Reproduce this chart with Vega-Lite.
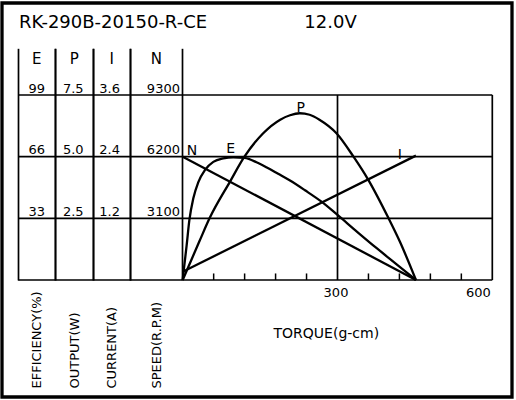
{
  "$schema": "https://vega.github.io/schema/vega-lite/v6.json",
  "description": "RK-290B-20150-R-CE motor performance at 12.0V: efficiency, output, current and speed against torque.",
  "width": 510,
  "height": 394,
  "autosize": {"type": "none"},
  "padding": {"left": 2, "top": 3, "right": 4, "bottom": 3},
  "background": "white",
  "title": {
    "text": "RK-290B-20150-R-CE\u00a0\u00a0\u00a0\u00a0\u00a0\u00a0\u00a0\u00a0\u00a0\u00a0\u00a0\u00a0\u00a0\u00a0\u00a0\u00a0\u00a012.0V",
    "anchor": "start",
    "frame": "group",
    "offset": -22.3,
    "baseline": "alphabetic",
    "dx": 17,
    "dy": 20.5,
    "font": "DejaVu Sans",
    "fontSize": 18,
    "fontWeight": "normal",
    "color": "black"
  },
  "datasets": {
    "curves": [
      {"series": "E", "torque": 0, "value": 0},
      {"series": "E", "torque": 2.5, "value": 6.3},
      {"series": "E", "torque": 7.7, "value": 18.7},
      {"series": "E", "torque": 12.9, "value": 32},
      {"series": "E", "torque": 20.6, "value": 43.7},
      {"series": "E", "torque": 30.3, "value": 52.4},
      {"series": "E", "torque": 43.2, "value": 58.9},
      {"series": "E", "torque": 59.3, "value": 63.2},
      {"series": "E", "torque": 78.7, "value": 65.1},
      {"series": "E", "torque": 98, "value": 65.7},
      {"series": "E", "torque": 120, "value": 65.3},
      {"series": "E", "torque": 143, "value": 63.0},
      {"series": "E", "torque": 163, "value": 60.2},
      {"series": "E", "torque": 185, "value": 56.8},
      {"series": "E", "torque": 208, "value": 53.2},
      {"series": "E", "torque": 237, "value": 48.0},
      {"series": "E", "torque": 269, "value": 41.9},
      {"series": "E", "torque": 300, "value": 34.8},
      {"series": "E", "torque": 338, "value": 25.8},
      {"series": "E", "torque": 376, "value": 17.0},
      {"series": "E", "torque": 414, "value": 8.5},
      {"series": "E", "torque": 452, "value": 0},
      {"series": "P", "torque": 0, "value": 0},
      {"series": "P", "torque": 33, "value": 1.6},
      {"series": "P", "torque": 52, "value": 2.5},
      {"series": "P", "torque": 92, "value": 4.0},
      {"series": "P", "torque": 119, "value": 4.98},
      {"series": "P", "torque": 156, "value": 5.95},
      {"series": "P", "torque": 189, "value": 6.5},
      {"series": "P", "torque": 208, "value": 6.68},
      {"series": "P", "torque": 227, "value": 6.76},
      {"series": "P", "torque": 246, "value": 6.7},
      {"series": "P", "torque": 265, "value": 6.5},
      {"series": "P", "torque": 298, "value": 5.95},
      {"series": "P", "torque": 331, "value": 5.0},
      {"series": "P", "torque": 360, "value": 4.05},
      {"series": "P", "torque": 399, "value": 2.5},
      {"series": "P", "torque": 421, "value": 1.55},
      {"series": "P", "torque": 452, "value": 0},
      {"series": "I", "torque": 0, "value": 0.16},
      {"series": "I", "torque": 452, "value": 2.42},
      {"series": "N", "torque": 0, "value": 6200},
      {"series": "N", "torque": 452, "value": 0}
    ],
    "table": [
      {"series": "E", "value": 0},
      {"series": "E", "value": 33},
      {"series": "E", "value": 66},
      {"series": "E", "value": 99},
      {"series": "P", "value": 0},
      {"series": "P", "value": 2.5},
      {"series": "P", "value": 5.0},
      {"series": "P", "value": 7.5},
      {"series": "I", "value": 0},
      {"series": "I", "value": 1.2},
      {"series": "I", "value": 2.4},
      {"series": "I", "value": 3.6},
      {"series": "N", "value": 0},
      {"series": "N", "value": 3100},
      {"series": "N", "value": 6200},
      {"series": "N", "value": 9300}
    ],
    "torqueGrid": [
      {"torque": 300},
      {"torque": 600}
    ],
    "torqueTicks": [
      {"torque": 60},
      {"torque": 120},
      {"torque": 180},
      {"torque": 240},
      {"torque": 360},
      {"torque": 420},
      {"torque": 480},
      {"torque": 540}
    ]
  },
  "layer": [
    {
      "data": {"name": "table"},
      "transform": [{"filter": "datum.series === 'E'"}],
      "encoding": {
        "x": {
          "field": "series", "type": "nominal",
          "scale": {"type": "band", "domain": ["E"], "range": [16.3, 53.3], "paddingInner": 0, "paddingOuter": 0},
          "axis": {
            "orient": "top", "offset": -45.3, "domain": false, "grid": false,
            "ticks": true, "tickSize": -231.7, "tickWidth": 1.7, "tickColor": "black",
            "bandPosition": 1, "tickExtra": true,
            "labelAngle": 0, "labelAlign": "center", "labelBaseline": "alphabetic", "labelPadding": 216.4,
            "labelFontSize": 15, "labelColor": "black",
            "title": "EFFICIENCY(%)", "titleAngle": 270, "titleAlign": "left", "titleBaseline": "middle",
            "titleY": 339.7, "titleFontSize": 13, "titleFontWeight": "normal", "titleColor": "black"
          }
        },
        "y": {"field": "value", "type": "quantitative", "scale": {"domain": [0, 99], "range": [277, 92], "nice": false}, "axis": null}
      },
      "layer": [
        {"mark": {"type": "tick", "orient": "horizontal", "size": 37, "thickness": 1.7, "color": "black", "opacity": 1}},
        {
          "transform": [{"filter": "datum.value > 0"}],
          "mark": {"type": "text", "baseline": "alphabetic", "align": "center", "dy": -2.5, "fontSize": 13, "color": "black"},
          "encoding": {"text": {"field": "value", "type": "quantitative", "format": "d"}}
        }
      ]
    },
    {
      "data": {"name": "table"},
      "transform": [{"filter": "datum.series === 'P'"}],
      "encoding": {
        "x": {
          "field": "series", "type": "nominal",
          "scale": {"type": "band", "domain": ["P"], "range": [53.3, 91.3], "paddingInner": 0, "paddingOuter": 0},
          "axis": {
            "orient": "top", "offset": -45.3, "domain": false, "grid": false,
            "ticks": true, "tickSize": -231.7, "tickWidth": 1.7, "tickColor": "black",
            "bandPosition": 1, "tickExtra": true,
            "labelAngle": 0, "labelAlign": "center", "labelBaseline": "alphabetic", "labelPadding": 216.4,
            "labelFontSize": 15, "labelColor": "black",
            "title": "OUTPUT(W)", "titleAngle": 270, "titleAlign": "left", "titleBaseline": "middle",
            "titleY": 339.7, "titleFontSize": 13, "titleFontWeight": "normal", "titleColor": "black"
          }
        },
        "y": {"field": "value", "type": "quantitative", "scale": {"domain": [0, 7.5], "range": [277, 92], "nice": false}, "axis": null}
      },
      "layer": [
        {"mark": {"type": "tick", "orient": "horizontal", "size": 38, "thickness": 1.7, "color": "black", "opacity": 1}},
        {
          "transform": [{"filter": "datum.value > 0"}],
          "mark": {"type": "text", "baseline": "alphabetic", "align": "center", "dx": -1, "dy": -2.5, "fontSize": 13, "color": "black"},
          "encoding": {"text": {"field": "value", "type": "quantitative", "format": ".1f"}}
        }
      ]
    },
    {
      "data": {"name": "table"},
      "transform": [{"filter": "datum.series === 'I'"}],
      "encoding": {
        "x": {
          "field": "series", "type": "nominal",
          "scale": {"type": "band", "domain": ["I"], "range": [91.3, 128], "paddingInner": 0, "paddingOuter": 0},
          "axis": {
            "orient": "top", "offset": -45.3, "domain": false, "grid": false,
            "ticks": true, "tickSize": -231.7, "tickWidth": 1.7, "tickColor": "black",
            "bandPosition": 1, "tickExtra": true,
            "labelAngle": 0, "labelAlign": "center", "labelBaseline": "alphabetic", "labelPadding": 216.4,
            "labelFontSize": 15, "labelColor": "black",
            "title": "CURRENT(A)", "titleAngle": 270, "titleAlign": "left", "titleBaseline": "middle",
            "titleY": 339.7, "titleFontSize": 13, "titleFontWeight": "normal", "titleColor": "black"
          }
        },
        "y": {"field": "value", "type": "quantitative", "scale": {"domain": [0, 3.6], "range": [277, 92], "nice": false}, "axis": null}
      },
      "layer": [
        {"mark": {"type": "tick", "orient": "horizontal", "size": 36.7, "thickness": 1.7, "color": "black", "opacity": 1}},
        {
          "transform": [{"filter": "datum.value > 0"}],
          "mark": {"type": "text", "baseline": "alphabetic", "align": "center", "dx": -2, "dy": -2.5, "fontSize": 13, "color": "black"},
          "encoding": {"text": {"field": "value", "type": "quantitative", "format": ".1f"}}
        }
      ]
    },
    {
      "data": {"name": "table"},
      "transform": [{"filter": "datum.series === 'N'"}],
      "encoding": {
        "x": {
          "field": "series", "type": "nominal",
          "scale": {"type": "band", "domain": ["N"], "range": [128, 180.7], "paddingInner": 0, "paddingOuter": 0},
          "axis": {
            "orient": "top", "offset": -45.3, "domain": false, "grid": false,
            "ticks": true, "tickSize": -231.7, "tickWidth": 1.7, "tickColor": "black",
            "bandPosition": 1, "tickExtra": true,
            "labelAngle": 0, "labelAlign": "center", "labelBaseline": "alphabetic", "labelPadding": 216.4,
            "labelFontSize": 15, "labelColor": "black",
            "title": "SPEED(R.P.M)", "titleAngle": 270, "titleAlign": "left", "titleBaseline": "middle",
            "titleY": 339.7, "titleFontSize": 13, "titleFontWeight": "normal", "titleColor": "black"
          }
        },
        "y": {"field": "value", "type": "quantitative", "scale": {"domain": [0, 9300], "range": [277, 92], "nice": false}, "axis": null}
      },
      "layer": [
        {"mark": {"type": "tick", "orient": "horizontal", "size": 52.7, "thickness": 1.7, "color": "black", "opacity": 1}},
        {
          "transform": [{"filter": "datum.value > 0"}],
          "mark": {"type": "text", "baseline": "alphabetic", "align": "right", "dx": 23.6, "dy": -2.5, "fontSize": 13, "color": "black"},
          "encoding": {"text": {"field": "value", "type": "quantitative", "format": "d"}}
        }
      ]
    },
    {
      "data": {"name": "torqueGrid"},
      "mark": {"type": "rule", "strokeWidth": 1.7, "color": "black"},
      "encoding": {
        "x": {
          "field": "torque", "type": "quantitative",
          "scale": {"domain": [0, 600], "range": [180.7, 490.3], "nice": false},
          "axis": {
            "orient": "bottom", "offset": -117, "domain": false, "grid": false, "ticks": false,
            "values": [300, 600],
            "format": "d",
            "labelFlush": true, "labelOffset": -2,
            "labelBaseline": "top", "labelPadding": 6.5, "labelFontSize": 13, "labelColor": "black",
            "title": "TORQUE(g-cm)", "titleX": 323.8, "titleY": 57.7, "titleAlign": "center",
            "titleBaseline": "alphabetic", "titleFontSize": 14, "titleFontWeight": "normal", "titleColor": "black"
          }
        },
        "y": {"datum": 0, "type": "quantitative", "scale": {"domain": [0, 99], "range": [277, 92], "nice": false}, "axis": null},
        "y2": {"datum": 99}
      }
    },
    {
      "data": {"name": "torqueTicks"},
      "mark": {"type": "rule", "strokeWidth": 1.5, "color": "black"},
      "encoding": {
        "x": {"field": "torque", "type": "quantitative", "scale": {"domain": [0, 600], "range": [180.7, 490.3], "nice": false}, "axis": null},
        "y": {"datum": 0, "type": "quantitative", "scale": {"domain": [0, 99], "range": [277, 92], "nice": false}, "axis": null},
        "y2": {"datum": 3.5}
      }
    },
    {
      "data": {"name": "table"},
      "transform": [{"filter": "datum.series === 'E'"}],
      "mark": {"type": "rule", "strokeWidth": 1.7, "color": "black"},
      "encoding": {
        "x": {"datum": 0, "type": "quantitative", "scale": {"domain": [0, 600], "range": [180.7, 490.3], "nice": false}, "axis": null},
        "x2": {"datum": 600},
        "y": {"field": "value", "type": "quantitative", "scale": {"domain": [0, 99], "range": [277, 92], "nice": false}, "axis": null}
      }
    },
    {
      "data": {"name": "curves"},
      "transform": [{"filter": "datum.series === 'E'"}],
      "encoding": {
        "x": {"field": "torque", "type": "quantitative", "scale": {"domain": [0, 600], "range": [180.7, 490.3], "nice": false}, "axis": null},
        "y": {"field": "value", "type": "quantitative", "scale": {"domain": [0, 99], "range": [277, 92], "nice": false}, "axis": null}
      },
      "layer": [
        {"mark": {"type": "line", "interpolate": "monotone", "strokeWidth": 2.3, "color": "black"}},
        {
          "transform": [{"filter": "datum.torque === 98"}],
          "mark": {"type": "text", "text": "E", "align": "center", "baseline": "alphabetic", "dx": -2.5, "dy": -4, "fontSize": 14, "color": "black"}
        }
      ]
    },
    {
      "data": {"name": "curves"},
      "transform": [{"filter": "datum.series === 'P'"}],
      "encoding": {
        "x": {"field": "torque", "type": "quantitative", "scale": {"domain": [0, 600], "range": [180.7, 490.3], "nice": false}, "axis": null},
        "y": {"field": "value", "type": "quantitative", "scale": {"domain": [0, 7.5], "range": [277, 92], "nice": false}, "axis": null}
      },
      "layer": [
        {"mark": {"type": "line", "interpolate": "monotone", "strokeWidth": 2.3, "color": "black"}},
        {
          "transform": [{"filter": "datum.torque === 227"}],
          "mark": {"type": "text", "text": "P", "align": "center", "baseline": "alphabetic", "dx": 1, "dy": -1.5, "fontSize": 14, "color": "black"}
        }
      ]
    },
    {
      "data": {"name": "curves"},
      "transform": [{"filter": "datum.series === 'I'"}],
      "encoding": {
        "x": {"field": "torque", "type": "quantitative", "scale": {"domain": [0, 600], "range": [180.7, 490.3], "nice": false}, "axis": null},
        "y": {"field": "value", "type": "quantitative", "scale": {"domain": [0, 3.6], "range": [277, 92], "nice": false}, "axis": null}
      },
      "layer": [
        {"mark": {"type": "line", "strokeWidth": 2.3, "color": "black"}},
        {
          "transform": [{"filter": "datum.torque === 452"}],
          "mark": {"type": "text", "text": "I", "align": "center", "baseline": "alphabetic", "dx": -16, "dy": 3, "fontSize": 14, "color": "black"}
        }
      ]
    },
    {
      "data": {"name": "curves"},
      "transform": [{"filter": "datum.series === 'N'"}],
      "encoding": {
        "x": {"field": "torque", "type": "quantitative", "scale": {"domain": [0, 600], "range": [180.7, 490.3], "nice": false}, "axis": null},
        "y": {"field": "value", "type": "quantitative", "scale": {"domain": [0, 9300], "range": [277, 92], "nice": false}, "axis": null}
      },
      "layer": [
        {"mark": {"type": "line", "strokeWidth": 2.3, "color": "black"}},
        {
          "transform": [{"filter": "datum.torque === 0"}],
          "mark": {"type": "text", "text": "N", "align": "left", "baseline": "alphabetic", "dx": 4, "dy": -1.5, "fontSize": 14, "color": "black"}
        }
      ]
    }
  ],
  "resolve": {
    "scale": {"x": "independent", "y": "independent"},
    "axis": {"x": "independent", "y": "independent"}
  },
  "config": {
    "font": "DejaVu Sans",
    "view": {"stroke": "black", "strokeWidth": 3.3, "fill": "white"},
    "text": {"font": "DejaVu Sans"},
    "axis": {"labelFont": "DejaVu Sans", "titleFont": "DejaVu Sans"}
  }
}
